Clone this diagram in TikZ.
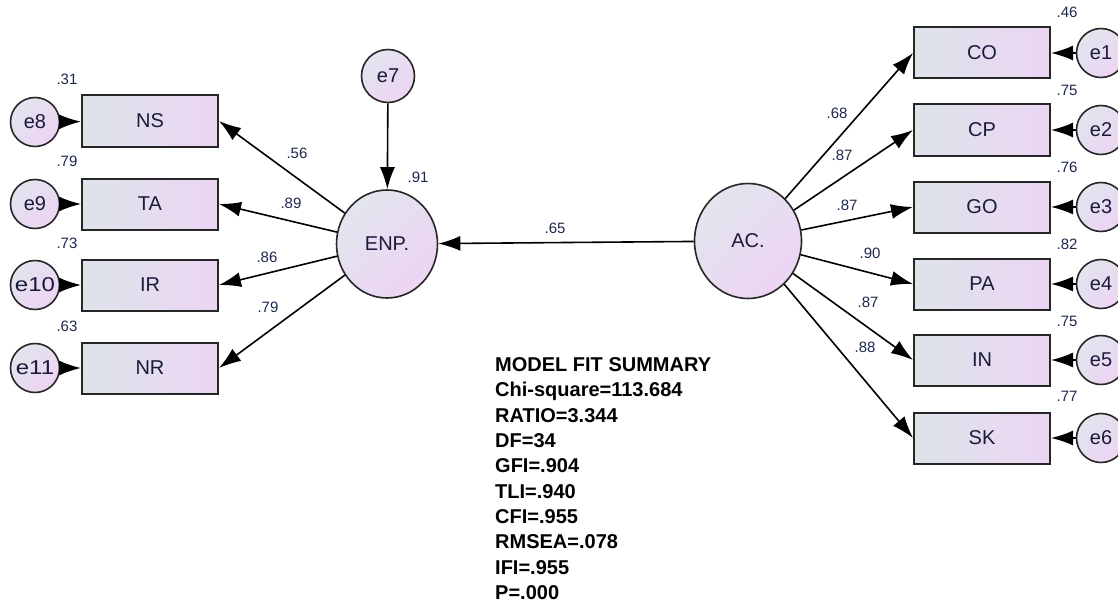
\documentclass[tikz,border=0pt]{standalone}
\usepackage{fontspec}
\setmainfont{Liberation Sans}
\usetikzlibrary{arrows.meta,shapes.geometric}
\definecolor{boxL}{HTML}{DDE4EA}
\definecolor{boxR}{HTML}{ECD5F3}
\definecolor{cirA}{HTML}{E2E5EE}
\definecolor{cirB}{HTML}{EDD4F3}
\definecolor{txt}{HTML}{1A1A3A}
\definecolor{val}{HTML}{1C2850}
\begin{document}
\begin{tikzpicture}[x=1pt,y=-1pt,
  obs/.style={draw=black!85, line width=2pt, minimum width=136pt, minimum height=51pt, inner sep=0pt,
    left color=boxL, right color=boxR, text=txt, font=\fontsize{20}{24}\selectfont},
  err/.style={circle, draw=black!85, line width=1.6pt, minimum size=49pt, inner sep=0pt,
    top color=cirA, bottom color=cirB, shading angle=45, text=txt, font=\fontsize{20}{24}\selectfont},
  lat/.style={ellipse, draw=black!85, line width=1.6pt, inner sep=0pt,
    top color=cirA, bottom color=cirB, shading angle=45, text=txt, font=\fontsize{20}{24}\selectfont},
  val/.style={text=val, inner sep=0pt, font=\fontsize{15}{18}\selectfont},
  path/.style={line width=1.6pt, -{Latex[length=22pt,width=15pt]}}
]
\clip (0,0) rectangle (1118,607);
\fill[white] (0,0) rectangle (1118,607);

% left side
\node[obs] (ns) at (150,121) {NS};
\node[obs] (ta) at (150,204) {TA};
\node[obs] (ir) at (150,285) {IR};
\node[obs] (nr) at (150,368) {NR};
\node[err] (e8) at (35,122) {e8};
\node[err] (e9) at (35,204) {e9};
\node[err] (e10) at (35,285) {\scalebox{1.2}[1]{e10}};
\node[err] (e11) at (35,368) {\scalebox{1.2}[1]{e11}};

\node[lat, minimum width=101pt, minimum height=108pt] (enp) at (387,244) {ENP.};
\node[err, minimum size=53pt] (e7) at (388,76) {e7};
\node[lat, minimum width=107pt, minimum height=115pt] (ac) at (748,241) {AC.};

% right side
\node[obs] (bco) at (982,53) {CO};
\node[obs] (bcp) at (982,130) {CP};
\node[obs] (bgo) at (982,207) {GO};
\node[obs] (bpa) at (982,284) {PA};
\node[obs] (bin) at (982,360) {IN};
\node[obs] (bsk) at (982,438) {SK};
\node[err] (e1) at (1101,53) {e1};
\node[err] (e2) at (1101,130) {e2};
\node[err] (e3) at (1101,207) {e3};
\node[err] (e4) at (1101,284) {e4};
\node[err] (e5) at (1101,360) {e5};
\node[err] (e6) at (1101,438) {e6};

% connectors
\draw[path] (enp) -- (ns.east);
\draw[path] (enp) -- (ta.east);
\draw[path] (enp) -- (ir.east);
\draw[path] (enp) -- (nr.east);
\draw[path] (e8) -- (ns);
\draw[path] (e9) -- (ta);
\draw[path] (e10) -- (ir);
\draw[path] (e11) -- (nr);
\draw[path] (e7) -- (enp);
\draw[path] (ac) -- (enp);
\draw[path] (ac) -- (bco.west);
\draw[path] (ac) -- (bcp.west);
\draw[path] (ac) -- (bgo.west);
\draw[path] (ac) -- (bpa.west);
\draw[path] (ac) -- (bin.west);
\draw[path] (ac) -- (bsk.west);
\draw[path] (e1) -- (bco);
\draw[path] (e2) -- (bcp);
\draw[path] (e3) -- (bgo);
\draw[path] (e4) -- (bpa);
\draw[path] (e5) -- (bin);
\draw[path] (e6) -- (bsk);

% values
\node[val] (v31) at (67,79) {.31};
\node[val] (v79) at (67,161) {.79};
\node[val] (v73) at (67,243) {.73};
\node[val] (v63) at (67,326) {.63};
\node[val] (v91) at (418,177) {.91};
\node[val] (v46) at (1067,12) {.46};
\node[val] (v75a) at (1067,90) {.75};
\node[val] (v76) at (1067,167) {.76};
\node[val] (v82) at (1067,244) {.82};
\node[val] (v75b) at (1067,321) {.75};
\node[val] (v77) at (1067,396) {.77};
\node[val] (p56) at (297,153) {.56};
\node[val] (p89) at (291,203) {.89};
\node[val] (p86) at (267,257) {.86};
\node[val] (p79) at (268,307) {.79};
\node[val] (p65) at (555,228) {.65};
\node[val] (p68) at (837,113) {.68};
\node[val] (p87a) at (842,155) {.87};
\node[val] (p87b) at (847,205) {.87};
\node[val] (p90) at (870,253) {.90};
\node[val] (p87c) at (868,302) {.87};
\node[val] (p88) at (865,347) {.88};

% model fit
\node[anchor=north west, inner sep=0pt, align=left, text=black,
  font=\fontsize{20}{25.3}\selectfont\bfseries] (fit) at (495,357.5)
  {MODEL FIT SUMMARY\\Chi-square=113.684\\RATIO=3.344\\DF=34\\GFI=.904\\TLI=.940\\CFI=.955\\RMSEA=.078\\IFI=.955\\P=.000};
\end{tikzpicture}
\end{document}
